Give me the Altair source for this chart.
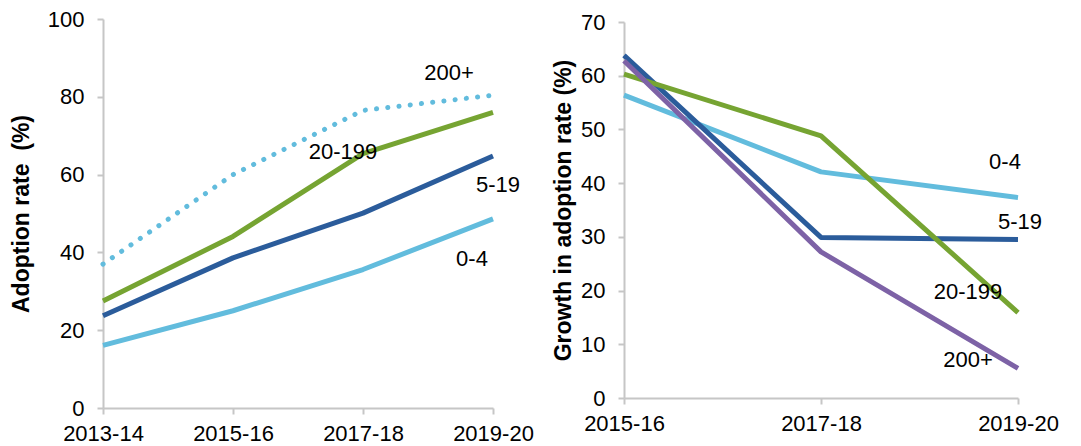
import altair as alt
import pandas as pd

# ---- data ----
groups = ["0-4", "5-19", "20-199", "200+"]

years_left = ["2013-14", "2015-16", "2017-18", "2019-20"]
rate_0_4 = [16.1, 25.0, 35.6, 48.6]
rate_5_19 = [23.7, 38.6, 50.1, 64.8]
rate_20_199 = [27.5, 44.1, 65.4, 76.0]
rate_200 = [37.0, 60.0, 76.5, 80.4]

years_right = ["2015-16", "2017-18", "2019-20"]
growth_0_4 = [56.4, 42.1, 37.3]
growth_5_19 = [63.8, 29.9, 29.5]
growth_20_199 = [60.3, 48.8, 15.9]
growth_200 = [62.8, 27.2, 5.5]

# annotation labels (anchor category, value, pixel nudge)
left_label_text = ["200+", "20-199", "5-19", "0-4"]
left_label_year = ["2019-20", "2017-18", "2019-20", "2019-20"]
left_label_value = [86.0, 65.9, 57.4, 38.4]
left_label_dx = [-44, -20, 5, -21]

right_label_text = ["0-4", "5-19", "20-199", "200+"]
right_label_year = ["2019-20", "2019-20", "2019-20", "2019-20"]
right_label_value = [43.9, 32.7, 19.8, 7.0]
right_label_dx = [-13, 2, -50, -50]

# ---- tables ----
left_df = pd.DataFrame(
    [
        {"year": y, "group": g, "value": v}
        for g, vals in zip(groups, [rate_0_4, rate_5_19, rate_20_199, rate_200])
        for y, v in zip(years_left, vals)
    ]
)
right_df = pd.DataFrame(
    [
        {"year": y, "group": g, "value": v}
        for g, vals in zip(groups, [growth_0_4, growth_5_19, growth_20_199, growth_200])
        for y, v in zip(years_right, vals)
    ]
)
left_lab = pd.DataFrame(
    {"text": left_label_text, "year": left_label_year,
     "value": left_label_value, "dx": left_label_dx}
)
right_lab = pd.DataFrame(
    {"text": right_label_text, "year": right_label_year,
     "value": right_label_value, "dx": right_label_dx}
)

LIGHT = "#62BCDD"
DARK = "#2B5C9B"
GREEN = "#76A432"
PURPLE = "#7D62A6"
AXIS = "#C6C6C6"
FONT = "Liberation Sans"

left_color = {"0-4": LIGHT, "5-19": DARK, "20-199": GREEN, "200+": LIGHT}
right_color = {"0-4": LIGHT, "5-19": DARK, "20-199": GREEN, "200+": PURPLE}


def xaxis():
    return alt.Axis(title=None, labelAngle=0, labelPadding=9)


# ---- left panel ----
lxs = alt.Scale(type="point", padding=0, domain=years_left)
lys = alt.Scale(domain=[0, 100], nice=False)
lx = alt.X("year:O", scale=lxs, axis=xaxis())
ly = alt.Y(
    "value:Q", scale=lys,
    axis=alt.Axis(title="Adoption rate\u00a0 (%)", values=[0, 20, 40, 60, 80, 100],
                  labelPadding=13, titlePadding=14),
)

left_layers = []
for g in groups:
    base = alt.Chart(left_df).transform_filter(alt.datum.group == g)
    if g == "200+":
        m = base.mark_line(strokeWidth=5, strokeCap="round", strokeDash=[0.1, 11.2],
                           color=left_color[g])
    else:
        m = base.mark_line(strokeWidth=5, strokeCap="butt", strokeJoin="round",
                           color=left_color[g])
    left_layers.append(m.encode(x=lx, y=ly))

left_text = (
    alt.Chart(left_lab)
    .mark_text(font=FONT, fontSize=22, color="black", align="center", baseline="middle")
    .encode(x=alt.X("year:O", scale=lxs), y=alt.Y("value:Q", scale=lys),
            text="text:N", xOffset=alt.XOffset("dx:Q", scale=None))
)
left = alt.layer(*left_layers, left_text).properties(width=390, height=389)

# ---- right panel ----
R_H = 379
rxs = alt.Scale(type="point", padding=0, domain=years_right)
rys = alt.Scale(domain=[0, 70], nice=False, range=[R_H, 3])
rx = alt.X("year:O", scale=rxs, axis=xaxis())
ry = alt.Y(
    "value:Q", scale=rys,
    axis=alt.Axis(title="Growth in adoption rate (%)", values=[0, 10, 20, 30, 40, 50, 60, 70],
                  labelPadding=13, titlePadding=5),
)
right_layers = []
for g in groups:
    right_layers.append(
        alt.Chart(right_df).transform_filter(alt.datum.group == g)
        .mark_line(strokeWidth=5, strokeCap="butt", strokeJoin="round", color=right_color[g])
        .encode(x=rx, y=ry)
    )
right_text = (
    alt.Chart(right_lab)
    .mark_text(font=FONT, fontSize=22, color="black", align="center", baseline="middle")
    .encode(x=alt.X("year:O", scale=rxs), y=alt.Y("value:Q", scale=rys),
            text="text:N", xOffset=alt.XOffset("dx:Q", scale=None))
)
right = alt.layer(*right_layers, right_text).properties(width=394, height=R_H)

chart = (
    alt.hconcat(left, right, spacing=18)
    .properties(padding={"left": 2, "top": 0, "right": 0, "bottom": 0})
    .configure_view(stroke=None)
    .configure_axis(
        domainColor=AXIS, domainWidth=2, tickColor=AXIS, tickWidth=2, tickSize=6,
        grid=False, labelFont=FONT, labelFontSize=22, labelColor="black",
        titleFont=FONT, titleFontSize=23, titleFontWeight="bold", titleColor="black",
    )
)

chart.save("out.html", embed_options={"renderer": "svg", "actions": False})
